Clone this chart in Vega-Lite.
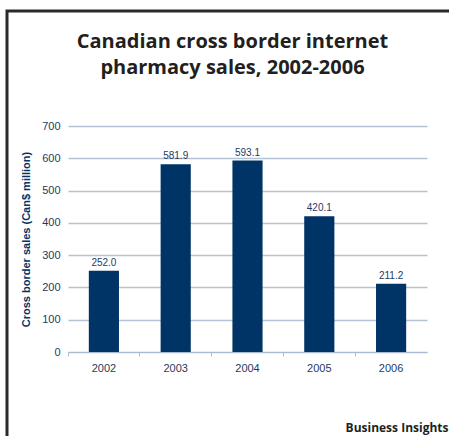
{
  "$schema": "https://vega.github.io/schema/vega-lite/v6.json",
  "width": 359,
  "height": 226,
  "autosize": {"type": "none"},
  "padding": {"left": 68, "top": 126, "right": 22, "bottom": 84},
  "background": "white",
  "title": {
    "text": ["Canadian cross border internet", "pharmacy sales, 2002-2006"],
    "font": "Open Sans",
    "fontWeight": "bold",
    "fontSize": 20,
    "lineHeight": 26,
    "color": "#231f20",
    "anchor": "middle",
    "dx": -15,
    "offset": -68
  },
  "data": {
    "values": [
      {"year": "2002", "sales": 252.0},
      {"year": "2003", "sales": 581.9},
      {"year": "2004", "sales": 593.1},
      {"year": "2005", "sales": 420.1},
      {"year": "2006", "sales": 211.2}
    ]
  },
  "encoding": {
    "x": {
      "field": "year",
      "type": "ordinal",
      "scale": {"paddingInner": 0, "paddingOuter": 0},
      "axis": {
        "title": "Business Insights",
        "titleFont": "Open Sans",
        "titleFontWeight": "bold",
        "titleFontSize": 12,
        "titleColor": "#231f20",
        "titleAnchor": "end",
        "titleAlign": "right",
        "titleX": 380,
        "titleY": 70,
        "labelAngle": 0,
        "labelFont": "Liberation Sans",
        "labelFontSize": 11,
        "labelColor": "#1f3a5f",
        "labelPadding": 6,
        "bandPosition": 0,
        "domainColor": "#a9bbd1",
        "tickColor": "#a9bbd1",
        "tickSize": 4,
        "grid": false
      }
    },
    "y": {
      "field": "sales",
      "type": "quantitative",
      "scale": {"domain": [0, 700]},
      "axis": {
        "title": "Cross border sales (Can$ million)",
        "titleFont": "Liberation Sans",
        "titleFontWeight": "bold",
        "titleFontSize": 11,
        "titleColor": "#003366",
        "titlePadding": 10,
        "values": [0, 100, 200, 300, 400, 500, 600, 700],
        "labelFont": "Liberation Sans",
        "labelFontSize": 11,
        "labelColor": "#1f3a5f",
        "labelPadding": 8,
        "domain": false,
        "ticks": false,
        "gridColor": "#b5c3d6",
        "gridWidth": 1.5
      }
    }
  },
  "layer": [
    {
      "mark": {"type": "bar", "color": "#003366", "width": {"band": 0.42}}
    },
    {
      "mark": {"type": "text", "dy": -8, "font": "Liberation Sans", "fontSize": 10, "color": "#1f3a5f"},
      "encoding": {"text": {"field": "sales", "type": "quantitative", "format": ".1f"}}
    },
    {
      "mark": {"type": "point", "opacity": 0},
      "encoding": {
        "y": {"datum": 0},
        "color": {
          "datum": "frame",
          "scale": {"range": ["transparent"]},
          "legend": {
            "title": null,
            "orient": "none",
            "legendX": -61,
            "legendY": -115,
            "padding": 800,
            "strokeColor": "#2a2a2a",
            "labelExpr": "''",
            "symbolOpacity": 0,
            "encode": {"legend": {"update": {"strokeWidth": {"value": 3}}}}
          }
        }
      }
    }
  ],
  "config": {"view": {"stroke": null}, "legend": {"strokeWidth": 3}}
}
